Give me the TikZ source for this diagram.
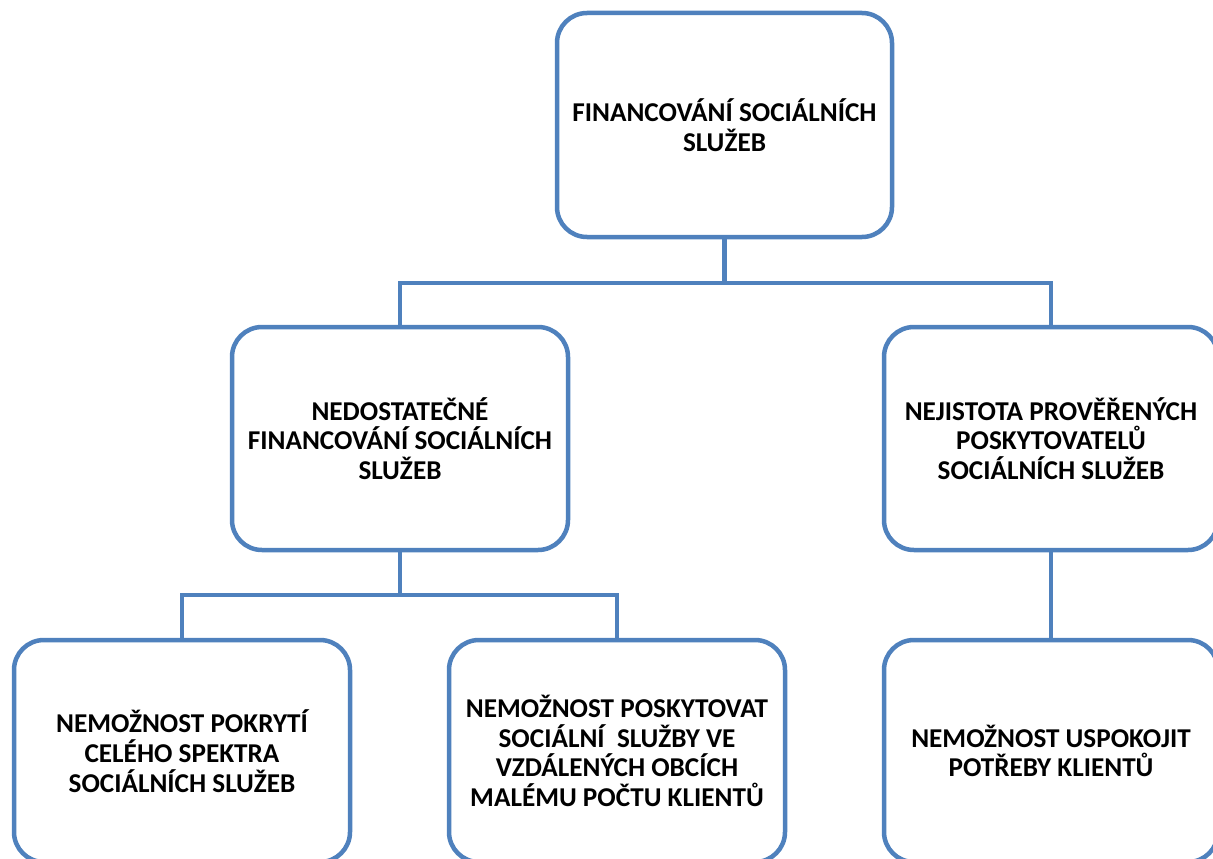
\documentclass[tikz,border=0pt]{standalone}
\usepackage{fontspec}
\setmainfont{Carlito}
\definecolor{boxblue}{RGB}{79,129,189}
\begin{document}
\begin{tikzpicture}[x=1pt,y=-1pt,
  box/.style={draw=boxblue,line width=4.5pt,rounded corners=30pt,fill=white,
    minimum width=#1,align=center,inner sep=0pt,
    font=\fontsize{27.2}{29.7}\selectfont\bfseries},
  conn/.style={draw=boxblue,line width=4.5pt}]
\useasboundingbox (0,0) rectangle (1213,859);
\clip (0,0) rectangle (1213,859);
% top
\node[box=335pt,minimum height=224pt] (top) at (724.5,125) {FINANCOVÁNÍ SOCIÁLNÍCH\\SLUŽEB};
% middle
\node[box=336pt,minimum height=223pt] (ml) at (400,438.5) {NEDOSTATEČNÉ\\FINANCOVÁNÍ SOCIÁLNÍCH\\SLUŽEB};
\node[box=334pt,minimum height=223pt] (mr) at (1051,438.5) {NEJISTOTA PROVĚŘENÝCH\\POSKYTOVATELŮ\\SOCIÁLNÍCH SLUŽEB};
% bottom
\node[box=336pt,minimum height=222pt] (bl) at (182,751) {NEMOŽNOST POKRYTÍ\\CELÉHO SPEKTRA\\SOCIÁLNÍCH SLUŽEB};
\node[box=336pt,minimum height=222pt] (bm) at (617,751) {NEMOŽNOST POSKYTOVAT\\SOCIÁLNÍ\ \ SLUŽBY VE\\VZDÁLENÝCH OBCÍCH\\MALÉMU POČTU KLIENTŮ};
\node[box=334pt,minimum height=222pt] (br) at (1051,751) {NEMOŽNOST USPOKOJIT\\POTŘEBY KLIENTŮ};
% connectors
\coordinate (j1) at (724.5,283);
\coordinate (j2) at (400,595);
\draw[conn] (top.south) -- (j1);
\draw[conn] (ml.north) |- (j1) -| (mr.north);
\draw[conn] (ml.south) -- (j2);
\draw[conn] (bl.north) |- (j2) -| (bm.north);
\draw[conn] (mr.south) -- (br.north);
\end{tikzpicture}
\end{document}
